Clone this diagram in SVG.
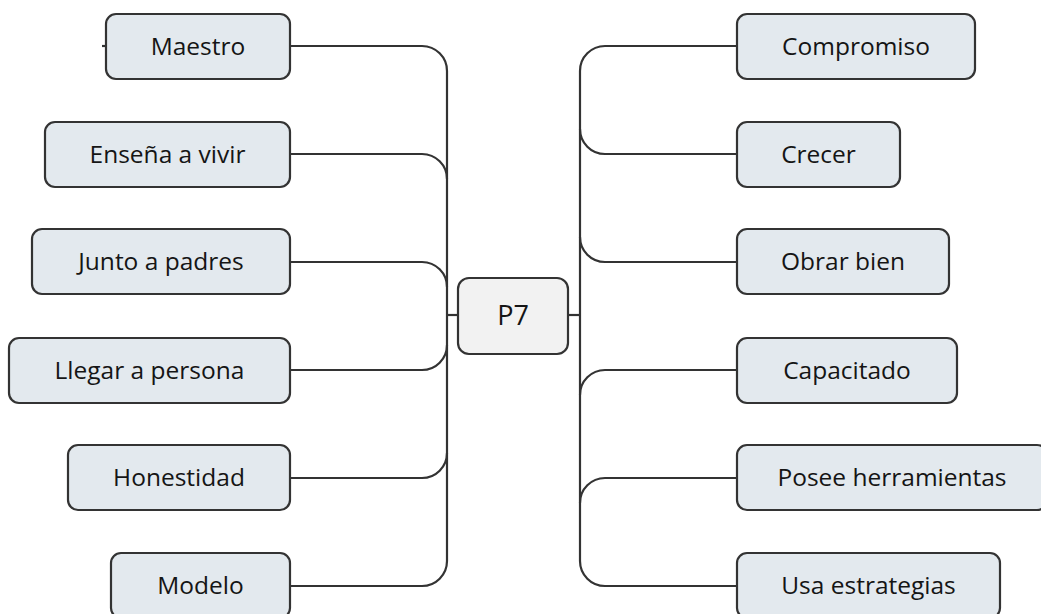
<svg xmlns="http://www.w3.org/2000/svg" width="1041" height="614" viewBox="0 0 1041 614">
<style>
.n rect{fill:#e3e9ee;stroke:#333;stroke-width:2.2}
.c rect{fill:#f2f2f2;stroke:#333;stroke-width:2.2}
text{font-family:"Open Sans","Noto Sans",sans-serif;font-size:24.5px;fill:#151515;text-anchor:middle}
.c text{font-size:27px}
#connectors path{fill:none;stroke:#333;stroke-width:2.2}
</style>
<rect width="1041" height="614" fill="#ffffff"/>
<g id="connectors">
<path d="M290,46 H422 A25,25 0 0 1 447,71 V561 A25,25 0 0 1 422,586 H290"/>
<path d="M290,154 H422 A25,25 0 0 1 447,179"/>
<path d="M290,262 H422 A25,25 0 0 1 447,287"/>
<path d="M290,370 H422 A25,25 0 0 0 447,345"/>
<path d="M290,478 H422 A25,25 0 0 0 447,453"/>
<path d="M447,315 H458"/>
<path d="M102,46 H106"/>
<path d="M737,46 H605 A25,25 0 0 0 580,71 V561 A25,25 0 0 0 605,586 H737"/>
<path d="M580,129 A25,25 0 0 0 605,154 H737"/>
<path d="M580,237 A25,25 0 0 0 605,262 H737"/>
<path d="M580,395 A25,25 0 0 1 605,370 H737"/>
<path d="M580,503 A25,25 0 0 1 605,478 H737"/>
<path d="M568,315 H580"/>
</g>
<g id="center" class="c"><rect x="458" y="278" width="110" height="76" rx="11"/><text x="513" y="325">P7</text></g>
<g id="maestro" class="n"><rect x="106" y="14" width="184" height="65" rx="10"/><text x="198" y="55">Maestro</text></g>
<g id="ensena" class="n"><rect x="45" y="122" width="245" height="65" rx="10"/><text x="167.5" y="163">Enseña a vivir</text></g>
<g id="junto" class="n"><rect x="32" y="229" width="258" height="65" rx="10"/><text x="161" y="270">Junto a padres</text></g>
<g id="llegar" class="n"><rect x="9" y="338" width="281" height="65" rx="10"/><text x="149.5" y="379">Llegar a persona</text></g>
<g id="honestidad" class="n"><rect x="68" y="445" width="222" height="65" rx="10"/><text x="179" y="486">Honestidad</text></g>
<g id="modelo" class="n"><rect x="111" y="553" width="179" height="65" rx="10"/><text x="200.5" y="594">Modelo</text></g>
<g id="compromiso" class="n"><rect x="737" y="14" width="238" height="65" rx="10"/><text x="856" y="55">Compromiso</text></g>
<g id="crecer" class="n"><rect x="737" y="122" width="163" height="65" rx="10"/><text x="818.5" y="163">Crecer</text></g>
<g id="obrar" class="n"><rect x="737" y="229" width="212" height="65" rx="10"/><text x="843" y="270">Obrar bien</text></g>
<g id="capacitado" class="n"><rect x="737" y="338" width="220" height="65" rx="10"/><text x="847" y="379">Capacitado</text></g>
<g id="posee" class="n"><rect x="737" y="445" width="310" height="65" rx="10"/><text x="892" y="486">Posee herramientas</text></g>
<g id="usa" class="n"><rect x="737" y="553" width="263" height="65" rx="10"/><text x="868.5" y="594">Usa estrategias</text></g>
</svg>
